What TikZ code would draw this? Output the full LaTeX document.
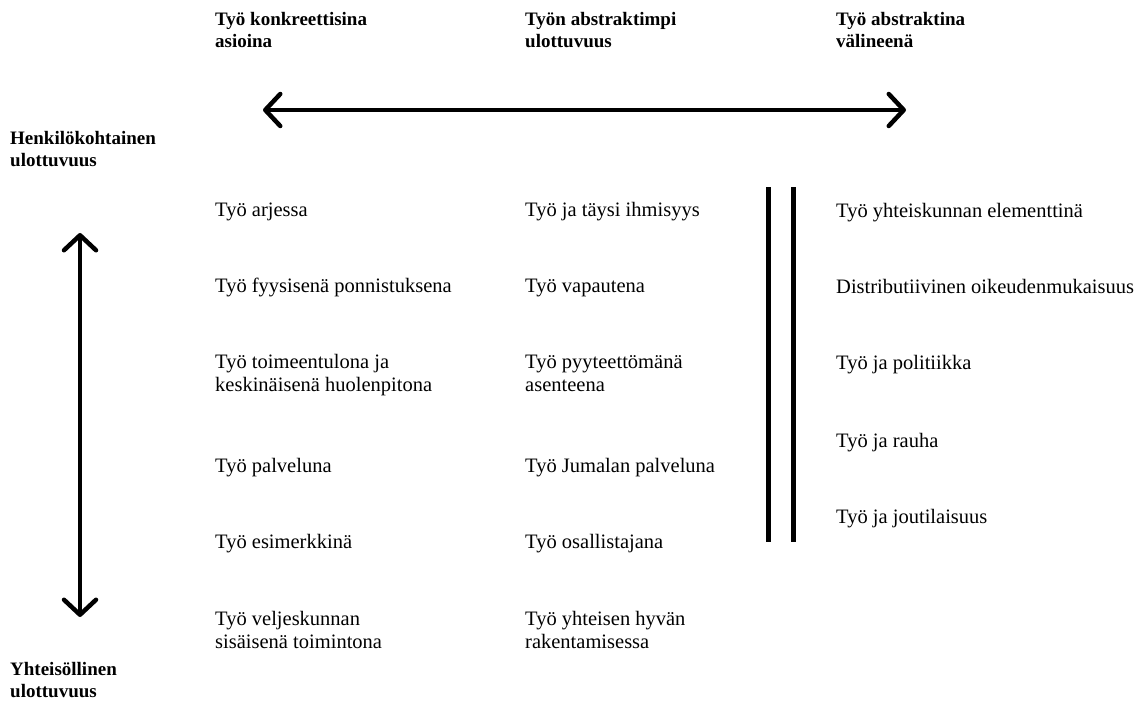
\documentclass[tikz,border=0pt]{standalone}
\usepackage{fontspec}
\setmainfont{Liberation Serif}
\usetikzlibrary{arrows.meta}
\begin{document}
\begin{tikzpicture}[x=1pt,y=-1pt]
	\tikzstyle{otsikko}=[anchor=base west,inner sep=0pt,align=left,font=\fontsize{19}{22}\selectfont\bfseries];
	\tikzstyle{kohta}=[anchor=base west,inner sep=0pt,align=left,font=\fontsize{20.5}{23}\selectfont];
	\tikzstyle{nuoli}=[line width=4.5pt,{Straight Barb[round,length=15pt,width=32pt]}-{Straight Barb[round,length=15pt,width=32pt]}];
	\useasboundingbox (0,0) rectangle (1137,701);
	% otsikot (base = viimeinen rivi)
	\node[otsikko] (konk) at (215,48) {Työ konkreettisina\\asioina};
	\node[otsikko] (abst) at (525,48) {Työn abstraktimpi\\ulottuvuus};
	\node[otsikko] (vali) at (836,48) {Työ abstraktina\\välineenä};
	\node[otsikko] (henk) at (10,166) {Henkilökohtainen\\ulottuvuus};
	\node[otsikko] (yht) at (10,697) {Yhteisöllinen\\ulottuvuus};
	% nuolet
	\coordinate (hvas) at (263,110);
	\coordinate (hoik) at (906,110);
	\draw[nuoli] (hvas) -- (hoik);
	\coordinate (pyla) at (80,233);
	\coordinate (pala) at (80,617);
	\draw[nuoli] (pyla) -- (pala);
	% kaksoisviiva
	\coordinate (v1y) at (768,187);
	\coordinate (v1a) at (768,542);
	\coordinate (v2y) at (793,187);
	\coordinate (v2a) at (793,542);
	\draw[line width=5pt] (v1y) -- (v1a) (v2y) -- (v2a);
	% konkreettinen
	\node[kohta] (arki) at (215,216) {Työ arjessa};
	\node[kohta] (fyys) at (215,292) {Työ fyysisenä ponnistuksena};
	\node[kohta] (toim) at (215,391) {Työ toimeentulona ja\\keskinäisenä huolenpitona};
	\node[kohta] (palv) at (215,472) {Työ palveluna};
	\node[kohta] (esim) at (215,548) {Työ esimerkkinä};
	\node[kohta] (velj) at (215,648) {Työ veljeskunnan\\sisäisenä toimintona};
	% abstraktimpi
	\node[kohta] (taysi) at (525,216) {Työ ja täysi ihmisyys};
	\node[kohta] (vap) at (525,292) {Työ vapautena};
	\node[kohta] (pyyt) at (525,391) {Työ pyyteettömänä\\asenteena};
	\node[kohta] (jum) at (525,472) {Työ Jumalan palveluna};
	\node[kohta] (osal) at (525,548) {Työ osallistajana};
	\node[kohta] (hyva) at (525,648) {Työ yhteisen hyvän\\rakentamisessa};
	% valineena
	\node[kohta] (elem) at (836,217) {Työ yhteiskunnan elementtinä};
	\node[kohta] (dist) at (836,293) {Distributiivinen oikeudenmukaisuus};
	\node[kohta] (poli) at (836,369) {Työ ja politiikka};
	\node[kohta] (rauha) at (836,447) {Työ ja rauha};
	\node[kohta] (jout) at (836,523) {Työ ja joutilaisuus};
\end{tikzpicture}
\end{document}
